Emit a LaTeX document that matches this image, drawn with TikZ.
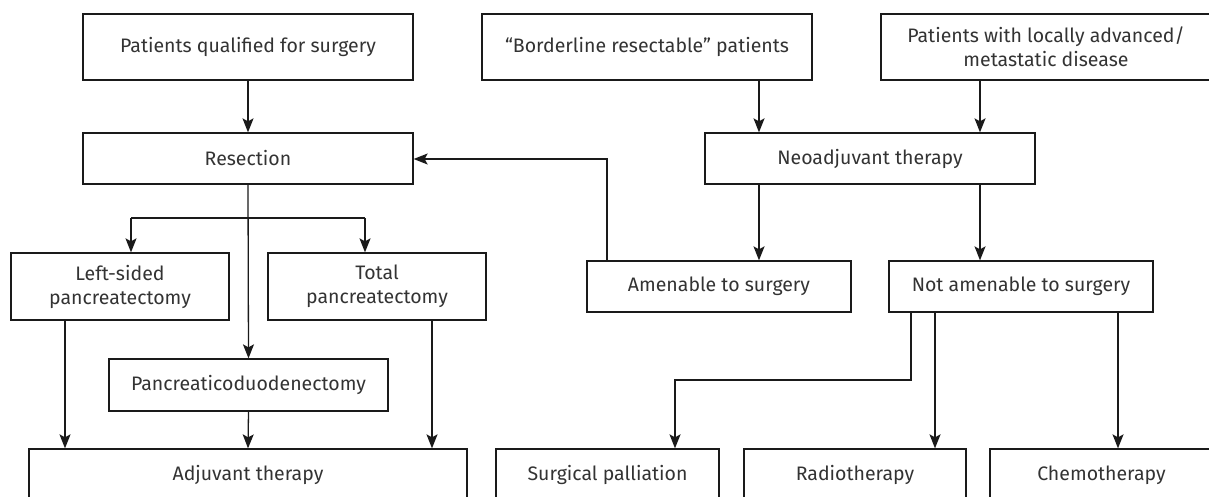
\documentclass[tikz,border=0pt]{standalone}
\usepackage{fontspec}
\setmainfont{Fira Sans}
\usetikzlibrary{arrows.meta}
\definecolor{linec}{HTML}{1A1A1A}
\definecolor{textc}{HTML}{333333}
\tikzset{
  box/.style={draw=linec, line width=1.3pt, align=center, inner sep=0pt,
    font=\fontsize{19.5}{24}\selectfont, text=textc},
  arr/.style={draw=linec, line width=1.3pt, -{Stealth[length=14pt,width=11pt,inset=3pt]}},
  ln/.style={draw=linec, line width=1.3pt}
}
\begin{document}
\begin{tikzpicture}[x=1pt,y=-1pt]
\useasboundingbox (0,0) rectangle (1209,496);
\clip (0,0) rectangle (1209,496);
\fill[white] (0,0) rectangle (1209,496);
% top row
\node[box, minimum width=330pt, minimum height=66pt] (pq) at (248,47) {Patients qualified for surgery};
\node[box, minimum width=330pt, minimum height=66pt] (bl) at (647,47) {“Borderline resectable” patients};
\node[box, minimum width=330pt, minimum height=66pt] (la) at (1046,47) {Patients with locally advanced/\\metastatic disease};
% second row
\node[box, minimum width=330pt, minimum height=51pt] (res) at (248,158.5) {Resection};
\node[box, minimum width=330pt, minimum height=51pt] (neo) at (870,158.5) {Neoadjuvant therapy};
% third row
\node[box, minimum width=218pt, minimum height=67pt] (ls) at (120,286.5) {Left-sided\\pancreatectomy};
\node[box, minimum width=218pt, minimum height=67pt] (tp) at (377,286.5) {Total\\pancreatectomy};
\node[box, minimum width=264pt, minimum height=51pt] (am) at (719,286.5) {Amenable to surgery};
\node[box, minimum width=264pt, minimum height=51pt] (nam) at (1021,286.5) {Not amenable to surgery};
% fourth row
\node[box, minimum width=279pt, minimum height=52pt] (pd) at (248.5,385) {Pancreaticoduodenectomy};
% bottom row
\node[box, minimum width=438pt, minimum height=52pt] (adj) at (248,475) {Adjuvant therapy};
\node[box, minimum width=223pt, minimum height=52pt] (sp) at (607.5,475) {Surgical palliation};
\node[box, minimum width=222pt, minimum height=52pt] (rt) at (855,475) {Radiotherapy};
\node[box, minimum width=223pt, minimum height=52pt] (ch) at (1101.5,475) {Chemotherapy};
% helper coordinates
\coordinate (xb) at (759,0);
\coordinate (xl) at (980,0);
\coordinate (xa) at (607,0);
\coordinate (ya) at (0,159);
\coordinate (ybr) at (0,218);
\coordinate (xls) at (131,0);
\coordinate (xtp) at (365,0);
\coordinate (xlsd) at (65,0);
\coordinate (xtpd) at (432,0);
\coordinate (xn1) at (911,0);
\coordinate (xn2) at (935,0);
\coordinate (xn3) at (1118,0);
\coordinate (yn) at (0,380);
\coordinate (xsp) at (675,0);
% connectors
\draw[arr] (pq.south) -- (res.north);
\draw[arr] (bl.south -| xb) -- (neo.north -| xb);
\draw[arr] (la.south -| xl) -- (neo.north -| xl);
\draw[arr] (neo.south -| xb) -- (am.north -| xb);
\draw[arr] (neo.south -| xl) -- (nam.north -| xl);
\draw[arr] (am.north -| xa) -- (xa |- ya) -- (res.east |- ya);
\draw[arr] (res.south) -- (pd.north);
\draw[ln] (xls |- ybr) -- (xtp |- ybr);
\draw[arr] (xls |- ybr) -- (ls.north -| xls);
\draw[arr] (xtp |- ybr) -- (tp.north -| xtp);
\draw[arr] (ls.south -| xlsd) -- (adj.north -| xlsd);
\draw[arr] (tp.south -| xtpd) -- (adj.north -| xtpd);
\draw[arr] (pd.south) -- (adj.north);
\draw[arr] (nam.south -| xn1) -- (xn1 |- yn) -- (xsp |- yn) -- (sp.north -| xsp);
\draw[arr] (nam.south -| xn2) -- (rt.north -| xn2);
\draw[arr] (nam.south -| xn3) -- (ch.north -| xn3);
\end{tikzpicture}
\end{document}
